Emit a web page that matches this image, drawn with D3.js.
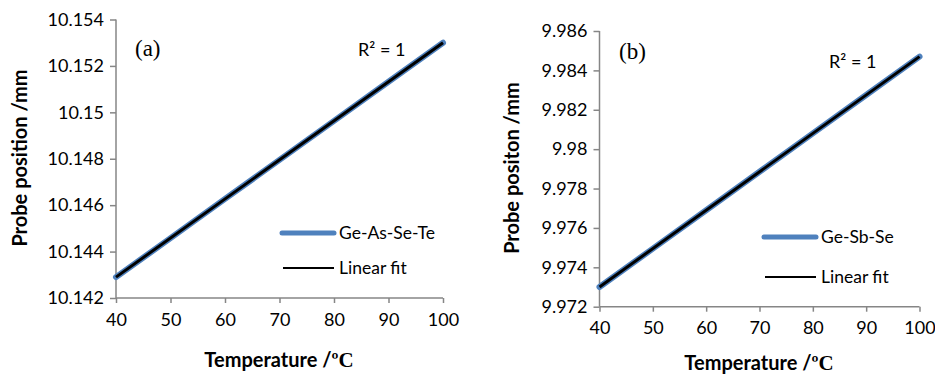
<!DOCTYPE html>
<html>
<head>
<meta charset="utf-8">
<script src="https://cdn.jsdelivr.net/npm/d3@7"></script>
<style>
  body { margin: 0; background: #fff; }
  svg { display: block; }
  text { fill: #000; }
</style>
</head>
<body>
<svg id="chart" width="935" height="375"></svg>
<script>
// Temperature (°C) sample points shared by both panels
const temps = [40, 50, 60, 70, 80, 90, 100];

// (a) Ge-As-Se-Te probe position (mm)
const geAsSeTe = [10.1429, 10.14458, 10.14627, 10.14795, 10.14963, 10.15132, 10.1530];
const fitA = [10.1429, 10.1530];

// (b) Ge-Sb-Se probe position (mm)
const geSbSe = [9.9730, 9.97495, 9.9769, 9.97885, 9.9808, 9.98275, 9.9847];
const fitB = [9.9730, 9.9847];

const xTicks = [40, 50, 60, 70, 80, 90, 100];
const yTicksA = [10.142, 10.144, 10.146, 10.148, 10.15, 10.152, 10.154];
const yTicksB = [9.972, 9.974, 9.976, 9.978, 9.98, 9.982, 9.984, 9.986];

const svg = d3.select('#chart');
const axisColor = '#868686';
const sans = 'Lato, "Open Sans", sans-serif';
const serif = '"Liberation Serif", "DejaVu Serif", serif';

function panel(cfg) {
    const g = svg.append('g').style('font-family', sans);
    const x = d3.scaleLinear().domain([40, 100]).range([cfg.left, cfg.right]);
    const y = d3.scaleLinear().domain(cfg.yDomain).range([cfg.bottom, cfg.top]);

    // y axis
    const ya = g.append('g')
        .attr('transform', `translate(${cfg.left},0)`)
        .call(d3.axisLeft(y).tickValues(cfg.yTicks).tickSize(6).tickPadding(6)
            .tickFormat(d => String(+d.toFixed(3))));
    // x axis
    const xa = g.append('g')
        .attr('transform', `translate(0,${cfg.bottom})`)
        .call(d3.axisBottom(x).tickValues(xTicks).tickSize(5).tickPadding(10));

    [ya, xa].forEach(a => {
        a.select('.domain').attr('stroke', axisColor).attr('stroke-width', 1.5);
        a.selectAll('.tick line').attr('stroke', axisColor).attr('stroke-width', 1.5);
        a.selectAll('.tick text').style('font-size', '18px').style('font-family', sans).attr('fill', '#000');
    });
    // excel-style: no outer tick ends on domain
    ya.select('.domain').attr('d', `M0,${cfg.top}V${cfg.bottom}`);
    xa.select('.domain').attr('d', `M${cfg.left},0H${cfg.right}`);

    const line = d3.line().x(d => x(d[0])).y(d => y(d[1]));

    g.append('path')
        .datum(temps.map((t, i) => [t, cfg.data[i]]))
        .attr('d', line)
        .attr('fill', 'none')
        .attr('stroke', '#4F81BD')
        .attr('stroke-width', 6)
        .attr('stroke-linecap', 'round');

    g.append('path')
        .datum([[40, cfg.fit[0]], [100, cfg.fit[1]]])
        .attr('d', line)
        .attr('fill', 'none')
        .attr('stroke', '#000')
        .attr('stroke-width', 3);

    // panel label
    g.append('text')
        .attr('x', cfg.labelX).attr('y', cfg.labelY)
        .style('font-family', serif)
        .style('font-size', '23px')
        .text(cfg.label);

    // R² annotation
    g.append('text')
        .attr('x', cfg.r2X).attr('y', cfg.r2Y)
        .style('font-size', '18px')
        .text('R² = 1');

    // legend
    const lg = g.append('g').attr('transform', `translate(${cfg.legX},${cfg.legY})`);
    lg.append('line').attr('x1', 0).attr('x2', 52).attr('y1', 0).attr('y2', 0)
        .attr('stroke', '#4F81BD').attr('stroke-width', 5).attr('stroke-linecap', 'round');
    lg.append('text').attr('x', 57).attr('y', 6).style('font-size', '17.5px').text(cfg.name);
    lg.append('line').attr('x1', 1).attr('x2', 52).attr('y1', cfg.legGap).attr('y2', cfg.legGap)
        .attr('stroke', '#000').attr('stroke-width', 2);
    lg.append('text').attr('x', 57).attr('y', cfg.legGap + 6).style('font-size', '17.5px').text('Linear fit');

    // y axis title
    g.append('text')
        .attr('transform', `translate(${cfg.yTitleX},${cfg.yTitleY}) rotate(-90)`)
        .attr('text-anchor', 'middle')
        .style('font-size', '20px')
        .style('font-weight', 'bold')
        .text(cfg.yTitle);

    // x axis title
    const xt = g.append('text')
        .attr('x', cfg.xTitleX).attr('y', cfg.xTitleY)
        .attr('text-anchor', 'middle')
        .style('font-size', '20px')
        .style('font-weight', 'bold');
    xt.append('tspan').text('Temperature /');
    xt.append('tspan').style('font-family', serif).style('font-size', '21px').text('ºC');
}

panel({
    left: 116, right: 443, top: 19.5, bottom: 298,
    yDomain: [10.142, 10.154], yTicks: yTicksA,
    data: geAsSeTe, fit: fitA,
    label: '(a)', labelX: 135, labelY: 56,
    r2X: 358, r2Y: 56,
    legX: 282, legY: 233, legGap: 35, name: 'Ge-As-Se-Te',
    yTitle: 'Probe position /mm', yTitleX: 27, yTitleY: 158,
    xTitleX: 279, xTitleY: 367
});

panel({
    left: 599.5, right: 919.5, top: 31, bottom: 306.7,
    yDomain: [9.972, 9.986], yTicks: yTicksB,
    data: geSbSe, fit: fitB,
    label: '(b)', labelX: 619, labelY: 59,
    r2X: 829, r2Y: 68,
    legX: 764, legY: 237, legGap: 40, name: 'Ge-Sb-Se',
    yTitle: 'Probe positon /mm', yTitleX: 519, yTitleY: 168,
    xTitleX: 759, xTitleY: 370
});
</script>
</body>
</html>
